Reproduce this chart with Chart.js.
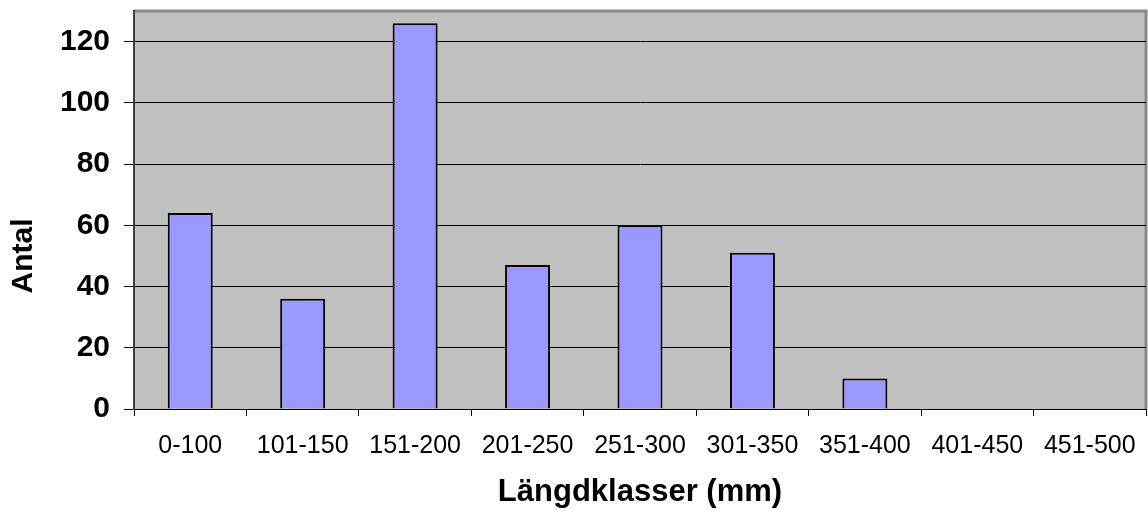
<!DOCTYPE html>
<html>
<head>
<meta charset="utf-8">
<script src="https://cdn.jsdelivr.net/npm/chart.js@4.4.0/dist/chart.umd.min.js"></script>
<style>
  html, body { margin: 0; padding: 0; background: #fff; }
  #wrap { width: 1148px; height: 511px; }
</style>
</head>
<body>
<div id="wrap"><canvas id="chart"></canvas></div>
<script>
const categories = ['0-100', '101-150', '151-200', '201-250', '251-300', '301-350', '351-400', '401-450', '451-500'];
const antal = [64, 36, 126, 47, 60, 51, 10, 0, 0];
const yTicks = [0, 20, 40, 60, 80, 100, 120];
const yTitle = 'Antal';

// grå bakgrund + ram runt ritytan
const plotBg = {
  id: 'plotBg',
  beforeDraw(chart) {
    const { ctx, chartArea: a } = chart;
    ctx.save();
    ctx.fillStyle = '#C0C0C0';
    ctx.fillRect(a.left, a.top, a.right - a.left, a.bottom - a.top);
    ctx.strokeStyle = '#888888';
    ctx.lineWidth = 3;
    ctx.beginPath();
    ctx.moveTo(a.left, a.top);
    ctx.lineTo(a.right, a.top);
    ctx.lineTo(a.right, a.bottom);
    ctx.stroke();
    ctx.restore();
  }
};

// y-titeln ligger lite lägre än mitten i originalet, så den ritas för hand
const yTitlePlugin = {
  id: 'yTitlePlugin',
  afterDraw(chart) {
    const { ctx } = chart;
    ctx.save();
    ctx.translate(24, 256);
    ctx.rotate(-Math.PI / 2);
    ctx.font = 'bold 30px "Liberation Sans"';
    ctx.fillStyle = '#000000';
    ctx.textAlign = 'center';
    ctx.textBaseline = 'middle';
    ctx.fillText(yTitle, 0, 0);
    ctx.restore();
  }
};

const ctx = document.getElementById('chart').getContext('2d');
new Chart(ctx, {
  type: 'bar',
  data: {
    labels: categories,
    datasets: [{
      label: 'Antal',
      data: antal,
      backgroundColor: '#9999FF',
      borderColor: '#000000',
      borderWidth: 2,
      barPercentage: 0.4,
      categoryPercentage: 1.0
    }]
  },
  options: {
    responsive: true,
    maintainAspectRatio: false,
    animation: false,
    layout: { padding: { top: 11, right: 2, left: 0, bottom: 0 } },
    plugins: {
      legend: { display: false },
      tooltip: { enabled: false }
    },
    scales: {
      x: {
        afterFit: (axis) => {
          axis.height = 102;
          axis.paddingLeft = 0;
          axis.paddingRight = 0;
        },
        grid: {
          offset: true,
          drawOnChartArea: false,
          drawTicks: true,
          tickLength: 7,
          color: '#000000'
        },
        border: { color: '#000000', width: 1 },
        ticks: {
          color: '#000000',
          padding: 15,
          maxRotation: 0,
          autoSkip: false,
          font: { family: 'Liberation Sans', size: 25 }
        },
        title: {
          display: true,
          text: 'Längdklasser (mm)',
          color: '#000000',
          padding: { top: 0, bottom: 0 },
          font: { family: 'Liberation Sans', size: 31, weight: 'bold' }
        }
      },
      y: {
        min: 0,
        max: 130,
        afterFit: (axis) => {
          axis.width = 134;
          axis.paddingTop = 0;
          axis.paddingBottom = 0;
        },
        afterBuildTicks: (axis) => {
          axis.ticks = yTicks.map((v) => ({ value: v }));
        },
        grid: {
          color: '#000000',
          lineWidth: 1,
          tickLength: 10
        },
        border: { color: '#404040', width: 2 },
        ticks: {
          color: '#000000',
          padding: 14,
          font: { family: 'Liberation Sans', size: 30, weight: 'bold' }
        },
        title: { display: false }
      }
    }
  },
  plugins: [plotBg, yTitlePlugin]
});
</script>
</body>
</html>
